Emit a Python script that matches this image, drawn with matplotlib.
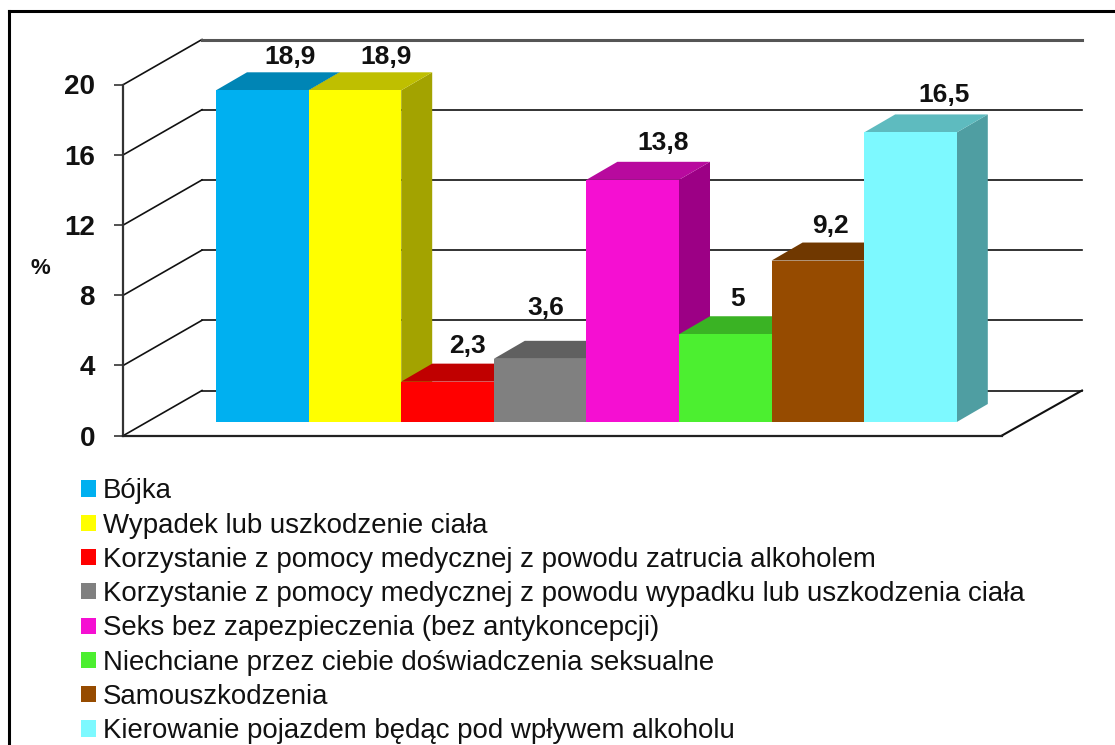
import matplotlib
matplotlib.use("Agg")
from matplotlib import pyplot as plt
from matplotlib.patches import Patch, Polygon

plt.rcParams["font.family"] = ["Liberation Sans", "DejaVu Sans"]

# dane
categories = [
    "Bójka",
    "Wypadek lub uszkodzenie ciała",
    "Korzystanie z pomocy medycznej z powodu zatrucia alkoholem",
    "Korzystanie z pomocy medycznej z powodu wypadku lub uszkodzenia ciała",
    "Seks bez zapezpieczenia (bez antykoncepcji)",
    "Niechciane przez ciebie doświadczenia seksualne",
    "Samouszkodzenia",
    "Kierowanie pojazdem będąc pod wpływem alkoholu",
]
values = [18.9, 18.9, 2.3, 3.6, 13.8, 5, 9.2, 16.5]
yticks = [0, 4, 8, 12, 16, 20]

front_colors = ["#00B0F0", "#FFFF00", "#FF0000", "#808080", "#F50FD2", "#4CEF30", "#964B00", "#7DF9FF"]
top_colors = ["#0085B5", "#BFBF00", "#C00000", "#606060", "#B80A9E", "#3AB324", "#703800", "#5EBBBF"]
side_colors = ["#0073A0", "#A3A300", "#A00000", "#505050", "#9C0085", "#309A1E", "#5E2F00", "#4F9EA2"]

# przesunięcia etykiet w pikselach
label_dx = [28, 31, 20, 6, 30, 12, 13, 34]
label_dy = [33, 33, 36, 51, 37, 35, 35, 37]

W, H = 1115, 745
px_x = 92.6   # piksele na jedną kategorię
px_y = 17.55  # piksele na 1%
y0_px = 435.5
bar0_px = 216

fig = plt.figure(figsize=(W / 100, H / 100), dpi=100, facecolor="white")
ax = fig.add_axes([0, 0, 1, 1])
ax.set_xlim(-bar0_px / px_x, (W - bar0_px) / px_x)
ax.set_ylim((y0_px - H) / px_y, y0_px / px_y)
ax.patch.set_visible(False)

wall_x = (123.5 - bar0_px) / px_x
back_x = (202 - bar0_px) / px_x
floor_x = (1002 - bar0_px) / px_x
end_x = (1082 - bar0_px) / px_x
wall_dy = 45 / px_y
bar_lift = 13.5 / px_y
depth_x = 31 / px_x
depth_y = 18 / px_y

# siatka
for t in yticks:
    lw, col = (2.2, "#555555") if t == 20 else (1.2, "#111111")
    ax.plot([wall_x, back_x], [t, t + wall_dy], color="#111111", lw=1.2, zorder=1)
    ax.plot([back_x, end_x], [t + wall_dy, t + wall_dy], color=col, lw=lw, zorder=1)
ax.plot([floor_x, end_x], [0, wall_dy], color="#111111", lw=1.5, zorder=1)

# słupki
for i, v in enumerate(values):
    z = 3 + i
    bottom = bar_lift
    top = bottom + v
    ax.add_patch(Polygon([(i + 1, bottom), (i + 1 + depth_x, bottom + depth_y),
                          (i + 1 + depth_x, top + depth_y), (i + 1, top)],
                         facecolor=side_colors[i], edgecolor="none", zorder=z))
    ax.add_patch(Polygon([(i, top), (i + depth_x, top + depth_y),
                          (i + 1 + depth_x, top + depth_y), (i + 1, top)],
                         facecolor=top_colors[i], edgecolor="none", zorder=z))
    ax.bar(i, v, width=1, bottom=bottom, align="edge", color=front_colors[i], zorder=z)
    ax.annotate(f"{v:g}".replace(".", ","), (i + 0.5, top),
                xytext=(label_dx[i], label_dy[i]), textcoords="offset pixels",
                ha="center", va="center", fontsize=19, fontweight="bold", color="#111111", zorder=20)

# osie
for s in ["top", "right"]:
    ax.spines[s].set_visible(False)
ax.spines["left"].set_position(("data", wall_x))
ax.spines["left"].set_bounds(0, 20)
ax.spines["left"].set_linewidth(1.6)
ax.spines["left"].set_color("#333333")
ax.spines["bottom"].set_position(("data", 0))
ax.spines["bottom"].set_bounds(wall_x, floor_x)
ax.spines["bottom"].set_linewidth(1.6)
ax.spines["bottom"].set_color("#222222")
ax.set_xticks([])
ax.set_yticks(yticks)
ax.set_yticklabels([str(t) for t in yticks], fontsize=20, fontweight="bold", color="#111111")
ax.tick_params(axis="y", length=6.5, width=1.1, color="#222222", pad=14)

ax.annotate("%", (40, H - 269), xycoords="figure pixels", ha="center", va="center",
            fontsize=16, fontweight="bold", color="#111111")

# legenda
handles = [Patch(facecolor=c, edgecolor="none", label=n) for c, n in zip(front_colors, categories)]
leg = ax.legend(handles=handles, loc="upper left", bbox_to_anchor=(73 / W, 1 - 470 / H),
                frameon=False, fontsize=19.9, labelcolor="#111111", labelspacing=0.30,
                handlelength=0.52, handleheight=0.52, handletextpad=0.27, borderpad=0.3, borderaxespad=0)
leg.set_zorder(30)

# ramka
fig.add_artist(plt.Line2D([9 / W, 9 / W], [0, 1 - 11 / H], color="black", lw=2.2))
fig.add_artist(plt.Line2D([9 / W, 1], [1 - 11 / H, 1 - 11 / H], color="black", lw=2.2))

fig.savefig("out.png", dpi=100)
